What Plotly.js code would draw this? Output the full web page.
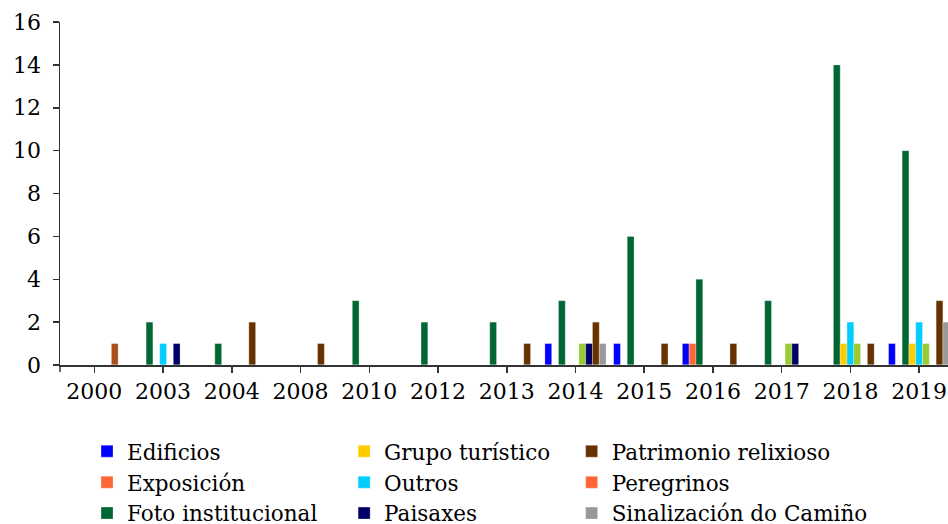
<!DOCTYPE html>
<html>
<head>
<meta charset="utf-8">
<script src="https://cdn.plot.ly/plotly-3.0.1.min.js"></script>
<style>
html, body { margin: 0; padding: 0; overflow: hidden; background: #fff; }
#chart { width: 948px; height: 524px; }
</style>
</head>
<body>
<div id="chart"></div>
<script>
// Categories (years)
var years = ["2000", "2003", "2004", "2008", "2010", "2012", "2013", "2014", "2015", "2016", "2017", "2018", "2019"];

// Series values (one per year, in the order of `years`)
var edificios       = [0, 0, 0, 0, 0, 0, 0, 1, 1, 1, 0, 0, 1];
var exposicion      = [0, 0, 0, 0, 0, 0, 0, 0, 0, 1, 0, 0, 0];
var fotoInst        = [0, 2, 1, 0, 3, 2, 2, 3, 6, 4, 3, 14, 10];
var grupoTuristico  = [0, 0, 0, 0, 0, 0, 0, 0, 0, 0, 0, 1, 1];
var outros          = [0, 1, 0, 0, 0, 0, 0, 0, 0, 0, 0, 2, 2];
var serieVerde      = [0, 0, 0, 0, 0, 0, 0, 1, 0, 0, 1, 1, 1];
var paisaxes        = [0, 1, 0, 0, 0, 0, 0, 1, 0, 0, 1, 0, 0];
var patrimonio      = [1, 0, 2, 1, 0, 0, 1, 2, 1, 1, 0, 1, 3];
var peregrinos      = [0, 0, 0, 0, 0, 0, 0, 0, 0, 0, 0, 0, 0];
var sinalizacion    = [0, 0, 0, 0, 0, 0, 0, 1, 0, 0, 0, 0, 2];

var FONT = "DejaVu Serif";
var edge = {color: "rgba(255,255,255,0.6)", width: 0.5};

function rev(a) { return a.slice().reverse(); }

function bar(name, vals, color, legend, opts) {
  var t = {
    type: "bar",
    name: name,
    x: rev(years),
    y: rev(vals),
    marker: {color: Array.isArray(color) ? rev(color) : color, line: edge},
    legend: legend,
    hoverinfo: "x+y+name"
  };
  if (opts) for (var k in opts) t[k] = opts[k];
  return t;
}

// per-bar colour for Patrimonio relixioso (2000 bar is lighter)
var patrimonioColors = years.map(function (y) { return y === "2000" ? "#A84E1A" : "#663300"; });

var data = [
  bar("Edificios", edificios, "#0000FF", "legend"),
  bar("Exposición", exposicion, "#FF6633", "legend"),
  bar("Foto institucional", fotoInst, "#006633", "legend"),
  bar("Grupo turístico", grupoTuristico, "#FFCC00", "legend2"),
  bar("Outros", outros, "#00CCFF", "legend2"),
  bar("Outra serie", serieVerde, "#99CC33", "legend2", {showlegend: false}),
  bar("Paisaxes", paisaxes, "#000066", "legend2"),
  bar("Patrimonio relixioso", patrimonio, patrimonioColors, "legend3"),
  bar("Peregrinos", peregrinos, "#FF6633", "legend3", {xaxis: "x2", yaxis: "y2"}),
  bar("Sinalización do Camiño", sinalizacion, "#999999", "legend3")
];

var legendBase = {
  xref: "container", yref: "container",
  xanchor: "left", yanchor: "top",
  orientation: "v",
  font: {family: FONT, size: 21.5, color: "#000"},
  bgcolor: "rgba(0,0,0,0)",
  traceorder: "normal",
  itemclick: false, itemdoubleclick: false
};
function leg(x) { var o = {}; for (var k in legendBase) o[k] = legendBase[k]; o.x = x; o.y = 0.178; return o; }

var axisX = {
  type: "category",
  categoryorder: "array",
  categoryarray: years,
  range: [-0.5, 12.42],
  showline: true, linecolor: "#333", linewidth: 1.5,
  ticks: "outside", ticklen: 6, tickwidth: 1.5, tickcolor: "#333",
  showgrid: false, zeroline: false,
  tickfont: {family: FONT, size: 22, color: "#000"},
  fixedrange: true
};

var layout = {
  width: 948, height: 524,
  margin: {l: 60, r: 0, t: 22, b: 159, autoexpand: false},
  paper_bgcolor: "#fff", plot_bgcolor: "#fff",
  barmode: "group",
  bargap: 0.11,
  bargroupgap: 0,
  font: {family: FONT, color: "#000"},
  showlegend: true,
  xaxis: axisX,
  yaxis: {
    range: [0, 16], dtick: 2, tick0: 0,
    showline: true, linecolor: "#333", linewidth: 1.5,
    ticks: "outside", ticklen: 6, tickwidth: 1.5, tickcolor: "#333",
    ticklabelstandoff: 7,
    showgrid: false, zeroline: false,
    tickfont: {family: FONT, size: 22, color: "#000"},
    fixedrange: true
  },
  xaxis2: {type: "category", categoryorder: "array", categoryarray: years, range: [-0.5, 12.42], overlaying: "x", visible: false, fixedrange: true},
  yaxis2: {range: [0, 16], overlaying: "y", visible: false, fixedrange: true},
  legend: leg(0.0918),
  legend2: leg(0.363),
  legend3: leg(0.603),
  shapes: [{
    type: "line", xref: "paper", yref: "paper", ysizemode: "pixel", yanchor: 0,
    x0: 0, x1: 0, y0: 0, y1: -7, line: {color: "#333", width: 1.5}
  }]
};

Plotly.newPlot("chart", data, layout, {displayModeBar: false, staticPlot: true});
</script>
</body>
</html>
